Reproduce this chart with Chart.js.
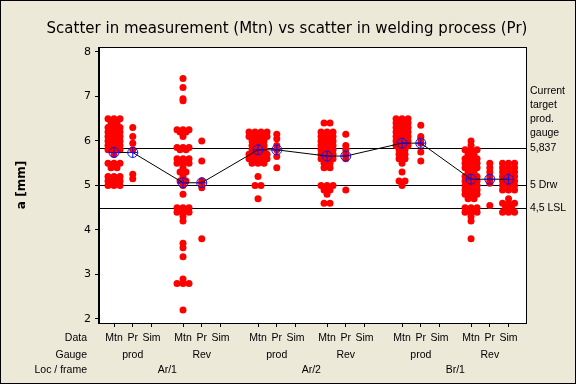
<!DOCTYPE html>
<html>
<head>
<meta charset="utf-8">
<script src="https://cdn.jsdelivr.net/npm/chart.js@4/dist/chart.umd.min.js"></script>
<style>
    html, body { margin: 0; padding: 0; background: #ECE9D8; }
    #wrap { width: 576px; height: 384px; }
</style>
</head>
<body>
<div id="wrap"><canvas id="chart" width="576" height="384"></canvas></div>
<script>
// Category levels (loc -> gauge -> data)
const locs = ['Ar/1', 'Ar/2', 'Br/1'];
const gauges = ['prod', 'Rev'];
const dataKinds = ['Mtn', 'Pr', 'Sim'];

// Individual values a [mm]
const ar1ProdMtn = [6.5, 6.5, 6.5, 6.4, 6.4, 6.3, 6.3, 6.3, 6.2, 6.2, 6.2, 6.1, 6.1, 6.1, 6.0, 6.0, 6.0, 5.9, 5.9, 5.9, 5.8, 5.8, 5.8, 5.7, 5.5, 5.5, 5.5, 5.4, 5.4, 5.2, 5.2, 5.2, 5.1, 5.1, 5.1, 5.0, 5.0, 5.0];
const ar1ProdPr = [6.3, 6.1, 5.95, 5.8, 5.25, 5.15];
const ar1RevMtn = [7.4, 7.2, 6.95, 6.9, 6.25, 6.25, 6.25, 6.2, 6.2, 6.1, 5.85, 5.85, 5.85, 5.8, 5.8, 5.6, 5.6, 5.6, 5.5, 5.5, 5.5, 5.4, 5.3, 5.3, 5.2, 5.1, 5.1, 5.0, 4.8, 4.5, 4.5, 4.5, 4.4, 4.4, 4.4, 4.3, 4.2, 3.7, 3.6, 3.4, 2.9, 2.8, 2.8, 2.8, 2.2];
const ar1RevPr = [6.0, 5.55, 5.1, 5.05, 4.95, 3.8];
const ar2ProdMtn = [6.2, 6.2, 6.2, 6.2, 6.1, 6.1, 6.1, 6.1, 6.0, 6.0, 6.0, 5.9, 5.9, 5.9, 5.8, 5.8, 5.8, 5.7, 5.7, 5.7, 5.7, 5.6, 5.6, 5.6, 5.6, 5.5, 5.5, 5.5, 5.2, 5.0, 5.0, 4.7];
const ar2ProdPr = [6.15, 6.05, 5.9, 5.8, 5.65, 5.4];
const ar2RevMtn = [6.4, 6.4, 6.2, 6.2, 6.2, 6.1, 6.1, 6.1, 6.0, 6.0, 6.0, 5.9, 5.9, 5.9, 5.8, 5.8, 5.8, 5.7, 5.7, 5.7, 5.6, 5.6, 5.6, 5.5, 5.5, 5.4, 5.4, 5.0, 5.0, 5.0, 4.9, 4.9, 4.8, 4.6, 4.6];
const ar2RevPr = [6.15, 5.9, 5.8, 5.7, 5.6, 4.9];
const br1ProdMtn = [6.5, 6.5, 6.5, 6.4, 6.4, 6.4, 6.3, 6.3, 6.3, 6.2, 6.2, 6.2, 6.1, 6.1, 6.1, 6.0, 6.0, 6.0, 5.9, 5.9, 5.9, 5.8, 5.8, 5.7, 5.7, 5.6, 5.6, 5.5, 5.3, 5.1, 5.1, 5.0];
const br1ProdPr = [6.35, 6.1, 6.05, 5.95, 5.75, 5.55];
const br1RevMtn = [6.0, 5.9, 5.8, 5.8, 5.8, 5.7, 5.7, 5.6, 5.6, 5.6, 5.5, 5.5, 5.5, 5.4, 5.4, 5.4, 5.3, 5.3, 5.2, 5.2, 5.2, 5.1, 5.1, 5.1, 5.0, 5.0, 5.0, 4.9, 4.9, 4.9, 4.8, 4.8, 4.8, 4.7, 4.7, 4.5, 4.5, 4.5, 4.4, 4.4, 4.4, 4.3, 4.2, 3.8];
const br1RevPr = [5.5, 5.4, 5.3, 5.2, 5.1, 5.05, 4.55];
const br1RevSim = [5.5, 5.5, 5.5, 5.4, 5.4, 5.4, 5.3, 5.3, 5.3, 5.2, 5.2, 5.2, 5.1, 5.1, 5.1, 5.0, 5.0, 5.0, 4.9, 4.9, 4.9, 4.7, 4.6, 4.6, 4.6, 4.5, 4.5, 4.4, 4.4, 4.4];

// columns in loc -> gauge -> data order (no Sim data except Br/1 Rev)
const columns = [
    ar1ProdMtn, ar1ProdPr, [],
    ar1RevMtn, ar1RevPr, [],
    ar2ProdMtn, ar2ProdPr, [],
    ar2RevMtn, ar2RevPr, [],
    br1ProdMtn, br1ProdPr, [],
    br1RevMtn, br1RevPr, br1RevSim
];

// means shown with the crossed circles
const means = [5.74, 5.74, null, 5.06, 5.06, null, 5.80, 5.80, null, 5.66, 5.66, null, 5.95, 5.95, null, 5.14, 5.14, 5.14];

const yTicks = [2, 3, 4, 5, 6, 7, 8];
const refLines = [5.837, 5, 4.5];
const refLabels = ['5,837', '5 Drw', '4,5 LSL'];
const refHeader = ['Current', 'target', 'prod.', 'gauge'];

// x position of every column: gap between gauges, bigger gap between locs
const positions = [];
const colKind = [];
let xPos = 0;
locs.forEach((loc, li) => {
    gauges.forEach((g, gi) => {
        dataKinds.forEach((d) => {
            positions.push(xPos);
            colKind.push(d);
            xPos += 1;
        });
        xPos += (gi === gauges.length - 1) ? 1.0 : 0.68;
    });
});

// stack equal values side by side (individual value plot)
const STACK = 0.32;
const dots = [];
columns.forEach((vals, ci) => {
    const counts = {};
    vals.forEach(v => { counts[v] = (counts[v] || 0) + 1; });
    const seen = {};
    vals.forEach(v => {
        const n = counts[v];
        const i = seen[v] || 0;
        seen[v] = i + 1;
        dots.push({ x: positions[ci] + (i - (n - 1) / 2) * STACK, y: v });
    });
});

const meanPts = [];
means.forEach((m, i) => { if (m !== null) meanPts.push({ x: positions[i], y: m }); });

const FONT = '"Liberation Sans", Arial, sans-serif';

const decorPlugin = {
    id: 'decor',
    beforeDraw(chart) {
        const { ctx, chartArea: a } = chart;
        ctx.save();
        ctx.fillStyle = '#ECE9D8';
        ctx.fillRect(0, 0, chart.width, chart.height);
        ctx.fillStyle = '#FFFFFF';
        ctx.fillRect(a.left, a.top, a.right - a.left, a.bottom - a.top);
        ctx.restore();
    },
    beforeDatasetsDraw(chart) {
        const { ctx, chartArea: a } = chart;
        const ys = chart.scales.y;
        ctx.save();
        ctx.strokeStyle = '#000';
        ctx.lineWidth = 1;
        refLines.forEach(v => {
            const py = Math.round(ys.getPixelForValue(v)) + 0.5;
            ctx.beginPath();
            ctx.moveTo(a.left, py);
            ctx.lineTo(a.right, py);
            ctx.stroke();
        });
        ctx.restore();
    },
    afterDraw(chart) {
        const { ctx, chartArea: a } = chart;
        const xs = chart.scales.x;
        const ys = chart.scales.y;
        ctx.save();
        // plot frame and outer frame
        ctx.strokeStyle = '#000';
        ctx.lineWidth = 1;
        ctx.strokeRect(Math.round(a.left) - 0.5, Math.round(a.top) + 0.5, Math.round(a.right - a.left) + 1, Math.round(a.bottom - a.top));
        ctx.strokeRect(0.5, 0.5, chart.width - 1, chart.height - 1);

        ctx.fillStyle = '#000';
        // title
        ctx.font = '15px "DejaVu Sans", sans-serif';
        ctx.textAlign = 'center';
        ctx.textBaseline = 'middle';
        ctx.fillText('Scatter in measurement (Mtn) vs scatter in welding process (Pr)', 287, 29);

        // y axis title
        ctx.save();
        ctx.translate(22, 185);
        ctx.rotate(-Math.PI / 2);
        ctx.font = 'bold 12px "DejaVu Sans", sans-serif';
        ctx.fillText('a [mm]', 0, 0);
        ctx.restore();

        // category rows under the axis
        ctx.font = '10.5px ' + FONT;
        const rowY = [338, 355, 370];
        ctx.textAlign = 'right';
        ['Data', 'Gauge', 'Loc / frame'].forEach((t, i) => ctx.fillText(t, 87, rowY[i]));
        ctx.textAlign = 'center';
        positions.forEach((p, i) => ctx.fillText(colKind[i], xs.getPixelForValue(p), rowY[0]));
        for (let g = 0; g < locs.length * gauges.length; g++) {
            const mid = positions[g * 3 + 1];
            ctx.fillText(gauges[g % gauges.length], xs.getPixelForValue(mid), rowY[1]);
        }
        locs.forEach((loc, li) => {
            const c = (positions[li * 6 + 1] + positions[li * 6 + 4]) / 2;
            ctx.fillText(loc, xs.getPixelForValue(c), rowY[2]);
        });

        // reference line labels on the right
        ctx.textAlign = 'left';
        refHeader.forEach((t, i) => ctx.fillText(t, 530, 91 + i * 14));
        refLines.forEach((v, i) => ctx.fillText(refLabels[i], 530, ys.getPixelForValue(v)));
        ctx.restore();
    }
};

new Chart(document.getElementById('chart'), {
    type: 'scatter',
    data: {
        datasets: [
            {
                data: dots,
                pointRadius: 3.5,
                pointHoverRadius: 3.5,
                pointBackgroundColor: '#FF0000',
                pointBorderWidth: 0,
                order: 3
            },
            {
                type: 'line',
                data: meanPts,
                borderColor: '#000',
                borderWidth: 1,
                pointRadius: 0,
                tension: 0,
                fill: false,
                order: 2
            },
            {
                data: meanPts,
                pointStyle: 'circle',
                pointRadius: 5,
                pointBackgroundColor: 'rgba(0,0,0,0)',
                pointBorderColor: '#1414E6',
                pointBorderWidth: 1,
                order: 1
            },
            {
                data: meanPts,
                pointStyle: 'cross',
                pointRadius: 5,
                pointBorderColor: '#1414E6',
                pointBorderWidth: 1,
                order: 0
            }
        ]
    },
    options: {
        responsive: false,
        animation: false,
        events: [],
        layout: { padding: { top: 47, right: 50, left: 0, bottom: 0 } },
        plugins: {
            legend: { display: false },
            tooltip: { enabled: false },
            title: { display: false }
        },
        scales: {
            x: {
                type: 'linear',
                min: -0.8,
                max: 21.97,
                afterBuildTicks: s => { s.ticks = positions.map(v => ({ value: v })); },
                afterFit: s => { s.height = 61; },
                ticks: { display: false },
                grid: { drawOnChartArea: false, drawTicks: true, tickLength: 4, color: '#000' },
                border: { display: true, color: '#000' }
            },
            y: {
                min: 1.91,
                max: 8.11,
                afterBuildTicks: s => { s.ticks = yTicks.map(v => ({ value: v })); },
                afterFit: s => { s.width = 99; },
                ticks: { color: '#000', padding: 4, font: { family: '"DejaVu Sans", sans-serif', size: 11 } },
                grid: { drawOnChartArea: false, drawTicks: true, tickLength: 4, color: '#000' },
                border: { display: true, color: '#000' }
            }
        }
    },
    plugins: [decorPlugin]
});
</script>
</body>
</html>
